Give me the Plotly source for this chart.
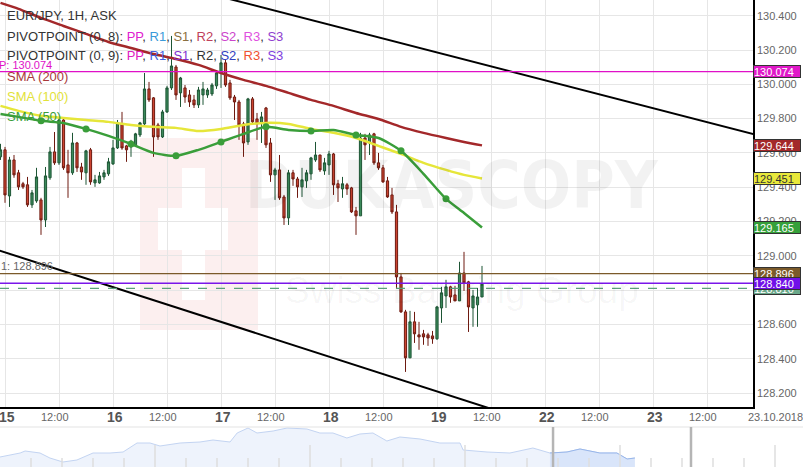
import plotly.graph_objects as go

W, H = 803, 467
FONT = "Liberation Sans, Arial, sans-serif"

# ---------------- data ----------------
hours = list(range(-1, 107))  # hourly bars, 0 = 15 Oct 00:00 (weekend removed)

open_p = [129.577, 129.618, 129.349, 129.559, 129.484, 129.420, 129.414, 129.297, 129.320, 129.326,
          129.209, 129.455, 129.606, 129.542, 129.792, 129.530, 129.484, 129.658, 129.518, 129.484,
          129.618, 129.425, 129.425, 129.460, 129.478, 129.536, 129.629, 129.769, 129.641, 129.635,
          129.647, 129.705, 129.769, 129.973, 129.921, 129.763, 129.693, 129.839, 129.979, 130.101,
          129.950, 129.979, 129.938, 129.909, 129.880, 129.938, 129.938, 129.944, 129.991, 130.066,
          130.125, 130.008, 129.926, 129.897, 129.769, 129.664, 129.915, 129.798, 129.775, 129.862,
          129.658, 129.472, 129.501, 129.343, 129.221, 129.484, 129.448, 129.402, 129.437, 129.478,
          129.559, 129.588, 129.495, 129.530, 129.594, 129.420, 129.390, 129.414, 129.396, 129.262,
          129.233, 129.687, 129.658, 129.711, 129.542, 129.513, 129.437, 129.355, 129.256, 128.877,
          128.673, 128.405, 128.615, 128.539, 128.545, 128.539, 128.533, 128.516, 128.696, 128.766,
          128.819, 128.772, 128.737, 128.900, 128.848, 128.696, 128.714, 128.760]
high_p = [129.653, 129.635, 129.577, 129.588, 129.501, 129.431, 129.460, 129.384, 129.513, 129.338,
          129.518, 129.635, 129.722, 129.804, 129.804, 129.618, 129.717, 129.664, 129.542, 129.618,
          129.629, 129.472, 129.489, 129.501, 129.571, 129.676, 129.792, 129.839, 129.647, 129.676,
          129.717, 129.781, 130.066, 130.014, 129.926, 129.775, 129.851, 129.991, 130.282, 130.113,
          130.043, 129.996, 129.967, 129.938, 129.985, 130.014, 129.979, 130.008, 130.072, 130.171,
          130.142, 130.026, 129.938, 129.909, 129.781, 129.921, 129.926, 129.833, 129.839, 129.868,
          129.687, 129.513, 129.588, 129.355, 129.501, 129.501, 129.460, 129.513, 129.501, 129.577,
          129.664, 129.588, 129.571, 129.612, 129.600, 129.443, 129.460, 129.425, 129.402, 129.285,
          129.717, 129.711, 129.717, 129.717, 129.600, 129.530, 129.460, 129.396, 129.297, 128.900,
          128.685, 128.679, 128.673, 128.615, 128.568, 128.551, 128.562, 128.708, 128.819, 128.860,
          128.825, 128.825, 128.965, 129.023, 128.854, 128.801, 128.813, 128.941]
low_p = [129.559, 129.309, 129.285, 129.455, 129.384, 129.390, 129.285, 129.279, 129.309, 129.122,
         129.168, 129.443, 129.530, 129.530, 129.501, 129.338, 129.472, 129.489, 129.443, 129.414,
         129.414, 129.402, 129.420, 129.443, 129.466, 129.530, 129.623, 129.618, 129.548, 129.577,
         129.641, 129.693, 129.763, 129.897, 129.577, 129.676, 129.687, 129.833, 129.967, 129.909,
         129.868, 129.892, 129.868, 129.862, 129.862, 129.880, 129.921, 129.932, 129.973, 129.979,
         129.985, 129.909, 129.792, 129.676, 129.577, 129.647, 129.769, 129.676, 129.658, 129.629,
         129.431, 129.326, 129.326, 129.180, 129.180, 129.408, 129.338, 129.343, 129.396, 129.443,
         129.548, 129.489, 129.472, 129.472, 129.355, 129.314, 129.338, 129.355, 129.250, 129.122,
         129.233, 129.559, 129.588, 129.530, 129.501, 129.425, 129.338, 129.244, 128.813, 128.667,
         128.323, 128.405, 128.492, 128.452, 128.481, 128.475, 128.487, 128.510, 128.609, 128.696,
         128.726, 128.737, 128.737, 128.795, 128.556, 128.586, 128.586, 128.760]
close_p = [129.618, 129.355, 129.559, 129.472, 129.402, 129.402, 129.297, 129.367, 129.460, 129.209,
           129.466, 129.606, 129.542, 129.792, 129.513, 129.484, 129.658, 129.513, 129.489, 129.612,
           129.431, 129.443, 129.466, 129.484, 129.548, 129.629, 129.775, 129.629, 129.618, 129.658,
           129.711, 129.775, 129.973, 129.909, 129.693, 129.693, 129.839, 129.979, 130.107, 129.938,
           130.037, 129.926, 129.897, 129.880, 129.967, 129.973, 129.967, 129.996, 130.066, 130.125,
           129.996, 129.921, 129.897, 129.763, 129.658, 129.915, 129.781, 129.769, 129.810, 129.647,
           129.472, 129.501, 129.338, 129.221, 129.484, 129.448, 129.402, 129.443, 129.484, 129.571,
           129.588, 129.501, 129.542, 129.594, 129.414, 129.396, 129.420, 129.390, 129.256, 129.233,
           129.687, 129.647, 129.705, 129.542, 129.513, 129.431, 129.343, 129.256, 128.877, 128.673,
           128.405, 128.615, 128.545, 128.527, 128.527, 128.521, 128.516, 128.702, 128.784, 128.819,
           128.760, 128.737, 128.900, 128.842, 128.702, 128.766, 128.760, 128.835]

sma_hours = [-1, 3, 8, 13, 18, 23, 28, 33, 38, 43, 48, 53, 58, 63, 68, 73, 78, 83, 88, 93, 98, 102, 106]
sma200 = [130.475, 130.440, 130.387, 130.340, 130.294, 130.247, 130.212, 130.177, 130.148, 130.113,
          130.066, 130.026, 129.991, 129.950, 129.909, 129.874, 129.833, 129.798, 129.752, 129.717,
          129.687, 129.664, 129.644]
sma100 = [129.874, 129.845, 129.816, 129.804, 129.792, 129.781, 129.763, 129.752, 129.746, 129.728,
          129.740, 129.763, 129.775, 129.769, 129.740, 129.717, 129.687, 129.641, 129.594, 129.542,
          129.501, 129.472, 129.451]
sma50 = [129.827, 129.810, 129.787, 129.775, 129.740, 129.699, 129.652, 129.600, 129.583, 129.618,
         129.664, 129.711, 129.752, 129.734, 129.728, 129.734, 129.705, 129.687, 129.612, 129.478,
         129.332, 129.250, 129.165]
sma50_marker_hours = [8, 18, 28, 38, 48, 58, 68, 78, 88, 98]

channel_upper_hours = [30, 170]
channel_upper = [130.632, 129.685]
channel_lower_hours = [-2, 110]
channel_lower = [129.037, 128.091]

pivot_pp = 130.074
pivot_s1 = 128.896
ask_price = 128.840
bid_price = 128.810

tick_hours = [0, 12, 24, 36, 48, 60, 72, 84, 96, 108, 120, 132, 144, 156]
tick_labels = ["15", "12:00", "16", "12:00", "17", "12:00", "18", "12:00",
               "19", "12:00", "22", "12:00", "23", "12:00"]
price_ticks = [128.2, 128.4, 128.6, 128.8, 129.0, 129.2, 129.4, 129.6, 129.8, 130.0, 130.2, 130.4]

nav_days = [0.0, 0.65, 0.81, 1.29, 1.61, 2.03, 2.48, 3.0, 3.55, 3.97, 4.42, 4.84, 5.16, 5.81, 6.45,
            6.87, 7.42, 7.65, 8.0, 8.29, 8.81, 9.26, 9.9, 10.32, 10.74, 11.19, 11.61, 12.03, 12.48,
            12.9, 13.55, 14.19, 14.84, 14.94, 15.71, 16.45, 17.19, 17.74, 18.29, 18.71, 19.35, 19.9,
            20.23, 20.48]
nav_close = [128.50, 128.70, 128.80, 128.70, 128.45, 128.25, 128.35, 128.70, 128.70, 128.75, 129.20,
             129.20, 129.05, 129.20, 129.25, 129.35, 129.25, 129.70, 129.95, 129.70, 129.80, 129.95,
             129.90, 129.70, 129.70, 129.45, 129.65, 129.70, 129.30, 129.50, 129.40, 129.20, 129.20,
             128.85, 128.75, 128.70, 128.95, 128.70, 128.75, 128.90, 128.70, 128.70, 128.40, 128.45]
nav_window = [17.84, 22.29]

# ---------------- geometry helpers (layout only) ----------------
def px(x):
    return x / W

def py(y):
    return 1 - y / H

X_RANGE = [-1.111, 166.222]
Y_RANGE = [128.1184, 130.4916]
XDOM = [0, 753 / W]
YDOM = [60 / H, 1]

fig = go.Figure()

# candles
fig.add_trace(go.Candlestick(
    x=hours, open=open_p, high=high_p, low=low_p, close=close_p,
    increasing=dict(fillcolor="#3c8a5b", line=dict(color="#1d5534", width=1)),
    decreasing=dict(fillcolor="#cc4431", line=dict(color="#6e1a10", width=1)),
    whiskerwidth=0, showlegend=False, hoverinfo="skip"))

# moving averages
fig.add_trace(go.Scatter(x=sma_hours, y=sma200, mode="lines", hoverinfo="skip", showlegend=False,
                         line=dict(color="#a3282a", width=2.5, shape="spline", smoothing=0.6)))
fig.add_trace(go.Scatter(x=sma_hours, y=sma100, mode="lines", hoverinfo="skip", showlegend=False,
                         line=dict(color="#e6e63a", width=2.5, shape="spline", smoothing=0.6)))
fig.add_trace(go.Scatter(x=sma_hours, y=sma50, mode="lines", hoverinfo="skip", showlegend=False,
                         line=dict(color="#3a9e3a", width=2.5, shape="spline", smoothing=0.6)))
sma50_lookup = dict(zip(sma_hours, sma50))
fig.add_trace(go.Scatter(x=sma50_marker_hours, y=[sma50_lookup[h] for h in sma50_marker_hours],
                         mode="markers", hoverinfo="skip", showlegend=False,
                         marker=dict(color="#3a9e3a", size=7)))

# channel lines
fig.add_trace(go.Scatter(x=channel_upper_hours, y=channel_upper, mode="lines", hoverinfo="skip",
                         showlegend=False, line=dict(color="#000000", width=2)))
fig.add_trace(go.Scatter(x=channel_lower_hours, y=channel_lower, mode="lines", hoverinfo="skip",
                         showlegend=False, line=dict(color="#000000", width=2)))

# navigator
fig.add_trace(go.Scatter(x=nav_days, y=nav_close, xaxis="x2", yaxis="y2", mode="lines",
                         fill="tozeroy", fillcolor="#eef3fc", hoverinfo="skip", showlegend=False,
                         line=dict(color="#c3d4f2", width=1)))
sel = [i for i, d in enumerate(nav_days) if d >= nav_window[0] - 0.12]
fig.add_trace(go.Scatter(x=[nav_days[i] for i in sel], y=[nav_close[i] for i in sel],
                         xaxis="x2", yaxis="y2", mode="lines", fill="tozeroy", fillcolor="#d9e5fa",
                         hoverinfo="skip", showlegend=False, line=dict(color="#98b6ea", width=1)))

shapes = []
# watermark logo (pink square with white cross)
shapes.append(dict(type="rect", xref="paper", yref="paper", x0=px(140), x1=px(258), y0=py(330), y1=py(138),
                   fillcolor="#fcefef", line=dict(width=0), layer="below"))
shapes.append(dict(type="rect", xref="paper", yref="paper", x0=px(182), x1=px(205), y0=py(300), y1=py(168),
                   fillcolor="#ffffff", line=dict(width=0), layer="below"))
shapes.append(dict(type="rect", xref="paper", yref="paper", x0=px(158), x1=px(228), y0=py(250), y1=py(208),
                   fillcolor="#ffffff", line=dict(width=0), layer="below"))

# horizontal levels
for lvl, col, w, dash in [(pivot_pp, "#e010c8", 1.2, "solid"), (pivot_s1, "#7b5a2a", 1.2, "solid"),
                          (bid_price, "#5aa07a", 1.2, "dash"), (ask_price, "#7a16ea", 1.6, "solid")]:
    shapes.append(dict(type="line", xref="x domain", yref="y", x0=0, x1=1, y0=lvl, y1=lvl,
                       line=dict(color=col, width=w, dash=dash)))

# separator above navigator
shapes.append(dict(type="line", xref="paper", yref="paper", x0=0, x1=1, y0=py(427), y1=py(427),
                   line=dict(color="#e3e3e3", width=1)))
# navigator ticks
for d in range(1, 26):
    tall = d % 5 == 0
    shapes.append(dict(type="line", xref="x2", yref="paper", x0=d, x1=d, y0=0,
                       y1=(22 if tall else 9) / H, line=dict(color="#dedede", width=1.5)))
for d in nav_window:
    shapes.append(dict(type="line", xref="x2", yref="paper", x0=d, x1=d, y0=0, y1=py(427),
                       line=dict(color="#b5b5b5", width=2.5)))

ann = []
# watermark text
ann.append(dict(text="<b>DUKASCOPY</b>", xref="paper", yref="paper", x=px(452), y=py(185),
                showarrow=False, font=dict(family="Liberation Sans Narrow, DejaVu Sans Condensed, Arial",
                                           size=66, color="rgba(0,0,0,0.05)")))
ann.append(dict(text="Swiss Banking Group", xref="paper", yref="paper", x=px(462), y=py(290),
                showarrow=False, font=dict(family=FONT, size=37, color="rgba(0,0,0,0.035)")))

# legend texts
dark = "#333333"
def sp(t, c):
    return f'<span style="color:{c}">{t}</span>'

legend_lines = [
    ("EUR/JPY, 1H, ASK", 15),
    ("PIVOTPOINT (0, 8): " + ", ".join(sp(t, c) for t, c in [
        ("PP", "#e020d0"), ("R1", "#3a9ad9"), ("S1", "#8b7040"), ("R2", "#c0405a"),
        ("S2", "#cc44cc"), ("R3", "#e050e0"), ("S3", "#9040d0")]), 36),
    ("PIVOTPOINT (0, 9): " + ", ".join(sp(t, c) for t, c in [
        ("PP", "#e020c0"), ("R1", "#4060e0"), ("S1", "#8030d0"), ("R2", "#333333"),
        ("S2", "#3040c0"), ("R3", "#f05030"), ("S3", "#8040e0")]), 55),
    (sp("SMA (200)", "#a8383a"), 76),
    (sp("SMA (100)", "#e2e23a"), 96),
    (sp("SMA (50)", "#3a9e3a"), 116),
]
for txt, yy in legend_lines:
    ann.append(dict(text=txt, xref="paper", yref="paper", x=px(5), y=py(yy), xanchor="left",
                    yanchor="middle", showarrow=False, font=dict(family=FONT, size=13, color=dark)))

# level captions on the left
ann.append(dict(text="P: 130.074", xref="paper", yref="y", x=0, y=pivot_pp, xanchor="left",
                yanchor="bottom", xshift=-3, yshift=-1, showarrow=False,
                font=dict(family=FONT, size=11, color="#e010c8")))
ann.append(dict(text="1: 128.896", xref="paper", yref="y", x=0, y=pivot_s1, xanchor="left",
                yanchor="bottom", xshift=-1, yshift=0, showarrow=False,
                font=dict(family=FONT, size=11, color="#666666")))

# right-side value boxes
for val, bg, fg in [(sma200[-1], "#a3282a", "#ffffff"), (sma100[-1], "#e8e83a", "#333333"),
                    (sma50[-1], "#35a03a", "#ffffff"), (pivot_pp, "#e018c8", "#ffffff"),
                    (bid_price, "#6aa88a", "#ffffff"), (pivot_s1, "#7b5a2a", "#ffffff"),
                    (ask_price, "#7010e8", "#ffffff")]:
    ann.append(dict(text=f"{val:.3f}", xref="paper", yref="y", x=XDOM[1], y=val, xanchor="left",
                    yanchor="middle", showarrow=False, bgcolor=bg, bordercolor="#333333",
                    borderwidth=1, borderpad=0, width=46, height=11, align="left",
                    font=dict(family=FONT, size=11, color=fg)))

# x-axis labels
for h, lab in zip(tick_hours, tick_labels):
    is_day = lab != "12:00"
    ann.append(dict(text=f"<b>{lab}</b>" if is_day else lab, xref="x", yref="paper", x=h, y=py(417),
                    xanchor="center", yanchor="middle", xshift=2 if is_day else -4, showarrow=False,
                    font=dict(family=FONT, size=14 if is_day else 11,
                              color="#555555" if is_day else "#666666")))
ann.append(dict(text="23.10.2018", xref="paper", yref="paper", x=px(775), y=py(417), showarrow=False,
                xanchor="center", yanchor="middle", font=dict(family=FONT, size=11, color="#666666")))

fig.update_layout(
    width=W, height=H, margin=dict(l=0, r=0, t=0, b=0),
    paper_bgcolor="#ffffff", plot_bgcolor="#ffffff",
    showlegend=False, shapes=shapes, annotations=ann,
    xaxis=dict(domain=XDOM, range=X_RANGE, type="linear", tickvals=tick_hours, showticklabels=False,
               showgrid=True, gridcolor="#e6e6e6", gridwidth=1, zeroline=False, showline=True,
               linecolor="#000000", linewidth=2, ticks="", rangeslider=dict(visible=False),
               fixedrange=True),
    yaxis=dict(domain=YDOM, range=Y_RANGE, side="right", anchor="x", tickvals=price_ticks,
               ticktext=[f"{v:.3f}" for v in price_ticks], showgrid=True, gridcolor="#e6e6e6",
               zeroline=False, showline=True, linecolor="#000000", linewidth=1.5, ticks="",
               tickfont=dict(family=FONT, size=11, color="#666666"), automargin=False),
    xaxis2=dict(domain=[0, 1], range=[0, W / 31], anchor="y2", visible=False),
    yaxis2=dict(domain=[0, 40 / H], range=[128.0, 130.0], anchor="x2", visible=False),
)

fig.write_html("out.html", config={"displayModeBar": False},
               post_script="document.body.style.margin='0';document.body.style.overflow='hidden';")
